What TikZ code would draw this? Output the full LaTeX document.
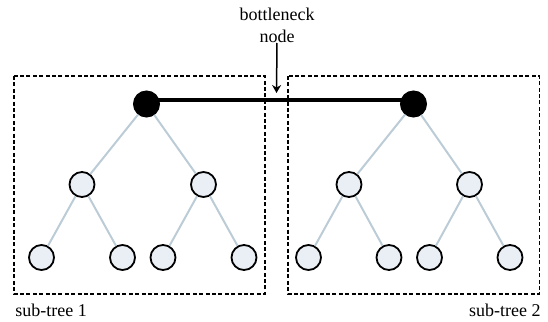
\documentclass[tikz,border=0pt]{standalone}
\usepackage{fontspec}
\setmainfont{Liberation Serif}
\usepackage{tikz}
\usetikzlibrary{arrows.meta, positioning, calc}
\definecolor{leaffill}{HTML}{E9EFF4}
\definecolor{edgegray}{HTML}{BCCCD6}
\tikzset{
  root/.style={circle, draw=black, fill=black, line width=1pt, minimum size=12.5pt, inner sep=0pt}, % Define the root style
  leaf/.style={circle, draw=black, fill=leaffill, line width=0.9pt, minimum size=12.5pt, inner sep=0pt}, % Define the leaf style
  edge/.style={draw=edgegray, line width=1pt},
  bridge/.style={draw=black, line width=1.8pt},
  subtree/.style={draw=black, line width=0.8pt, dash pattern=on 2pt off 1.2pt},
  caption/.style={inner sep=0pt, font=\fontsize{9}{11.2}\selectfont}
}

\begin{document}
\begin{tikzpicture}[>=Stealth, x=0.5pt, y=-0.5pt]
    \useasboundingbox (0,0) rectangle (548,322);

    % Boxes
    \draw[subtree] (14,76) rectangle (265,294);
    \draw[subtree] (288,76) rectangle (539.5,294);

    % Nodes
    \node[root] (root1) at (146.5,104) {};
    \node[root] (root2) at (413.5,104) {};

    \node[leaf] (mid1a) at (82,184.5) {};
    \node[leaf] (mid1b) at (203.5,184.5) {};
    \node[leaf] (mid2a) at (349,184.5) {};
    \node[leaf] (mid2b) at (469.5,184.5) {};

    \node[leaf] (leaf1a) at (41.5,257.5) {};
    \node[leaf] (leaf1b) at (122.5,257.5) {};
    \node[leaf] (leaf1c) at (163,257.5) {};
    \node[leaf] (leaf1d) at (244,257.5) {};
    \node[leaf] (leaf2a) at (308.5,257.5) {};
    \node[leaf] (leaf2b) at (389,257.5) {};
    \node[leaf] (leaf2c) at (429.5,257.5) {};
    \node[leaf] (leaf2d) at (510,257.5) {};

    % Labels
    \node[caption, align=center, anchor=south] (bottleneck) at (277,43) {bottleneck\\node};
    \coordinate (tip) at (276.5,93);
    \node[caption, anchor=base west] (sub1) at (15,316) {sub-tree 1};
    \node[caption, anchor=base east] (sub2) at (541,316) {sub-tree 2};

    % Edges
    \draw[edge] (root1) -- (mid1a);
    \draw[edge] (root1) -- (mid1b);
    \draw[edge] (mid1a) -- (leaf1a);
    \draw[edge] (mid1a) -- (leaf1b);
    \draw[edge] (mid1b) -- (leaf1c);
    \draw[edge] (mid1b) -- (leaf1d);
    \draw[edge] (root2) -- (mid2a);
    \draw[edge] (root2) -- (mid2b);
    \draw[edge] (mid2a) -- (leaf2a);
    \draw[edge] (mid2a) -- (leaf2b);
    \draw[edge] (mid2b) -- (leaf2c);
    \draw[edge] (mid2b) -- (leaf2d);
    \draw[bridge] ([yshift=2pt]root1.center) -- ([yshift=2pt]root2.center);
    \draw[->, line width=0.75pt, -{Stealth[length=4pt, width=4.5pt]}] (bottleneck.south) -- (tip);

\end{tikzpicture}
\end{document}
